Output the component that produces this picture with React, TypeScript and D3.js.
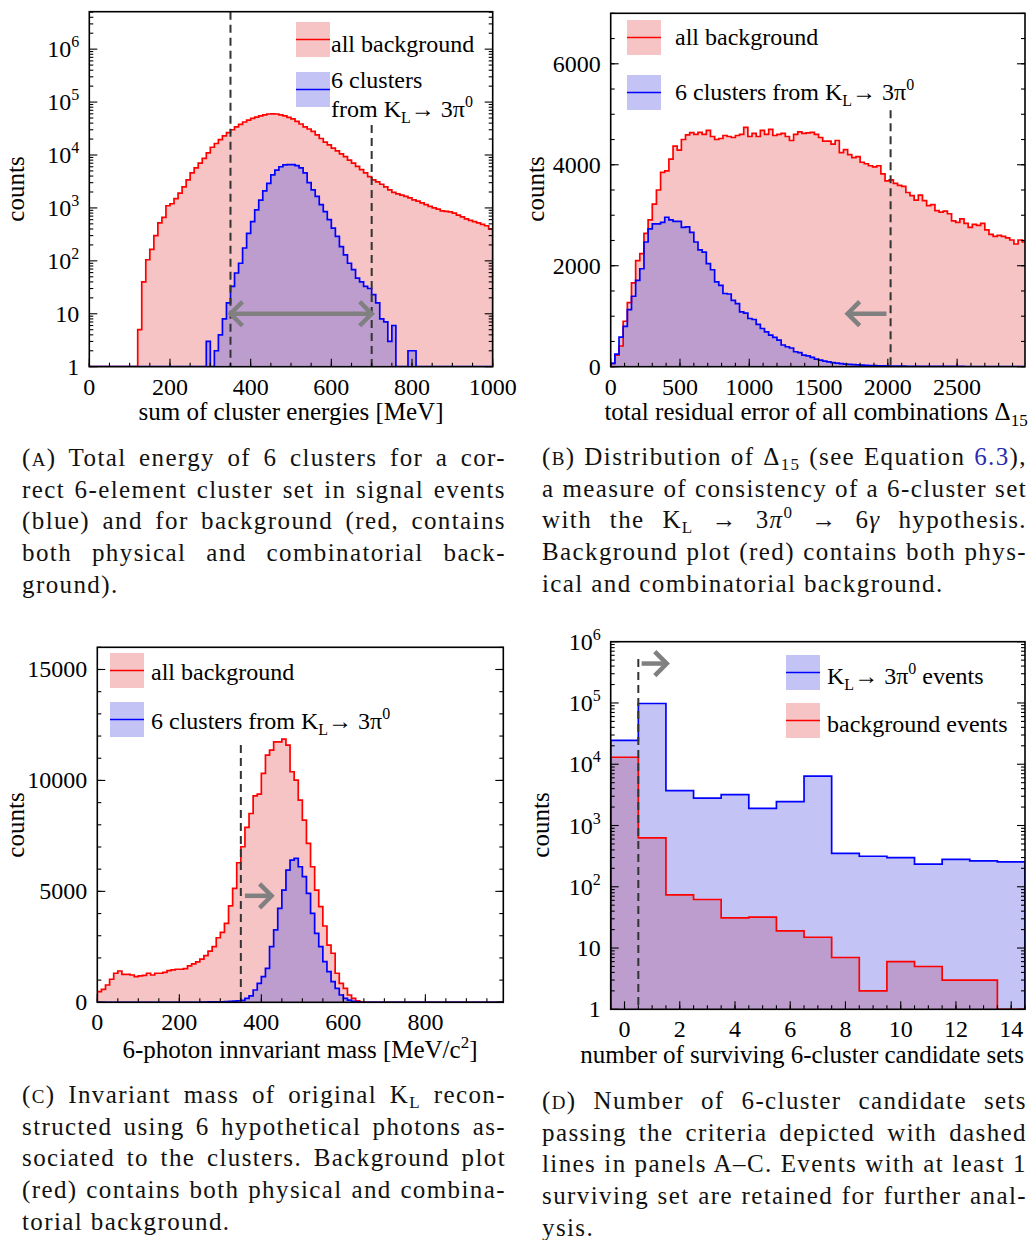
import * as d3 from "d3";
import type React from "react";
import { useLayoutEffect, useRef } from "react";

const FONT = "'Liberation Serif', 'Times New Roman', Times, serif";
const RED = "#ff0000";
const BLUE = "#0000ff";
const RED_FILL = "#f6c4c4";
const BLUE_FILL = "rgba(80, 80, 225, 0.34)";
const GREY = "#808080";
const DASH = "#333333";
const PLOT_FS = 24;
const TITLE_FS = 25;
const CAP_FS = 25;

// (A) sum of cluster energies, 10 MeV bins from 0 to 1000
const energyBinStart = 0;
const energyBinWidth = 10;
const energyBackground = [
	0, 0, 0, 0, 0, 0, 0, 0, 0, 0, 0, 0, 5, 40, 105, 165, 300, 520, 660, 1100,
	1200, 1500, 1900, 2500, 3400, 4600, 5700, 7000, 8600, 11000,
	14000, 16500, 19500, 23000, 26500, 30000, 34000, 38000, 42000, 45500,
	49000, 52000, 55000, 57500, 59500, 60000, 59500, 57500, 55000, 51500,
	48000, 43000, 38500, 34000, 31000, 28000, 24000, 20500, 17500, 15500,
	13500, 12000, 10500, 9300, 8000, 7000, 6100, 5300, 4600, 3900,
	3400, 3100, 2800, 2500, 2200, 1960, 1850, 1750, 1650, 1550,
	1420, 1350, 1250, 1150, 1070, 1000, 950, 880, 860, 840,
	800, 730, 680, 620, 580, 550, 520, 490, 460, 400,
];
const energySignal = [
	0, 0, 0, 0, 0, 0, 0, 0, 0, 0, 0, 0, 0, 0, 0, 0, 0, 0, 0, 0,
	0, 0, 0, 0, 0, 0, 0, 0, 0, 3,
	0, 2, 4, 8, 16, 33, 59, 90, 175, 330,
	550, 920, 1400, 2100, 2900, 4200, 5200, 6000, 6500, 6600,
	6600, 6300, 5700, 4600, 3000, 2200, 1650, 1150, 850, 600,
	415, 290, 185, 130, 90, 68, 47, 40, 33, 30,
	23, 16, 8, 7, 3, 6, 0, 0, 0, 2,
	2, 0, 0, 0, 0, 0, 0, 0, 0, 0, 0, 0, 0, 0, 0, 0, 0, 0, 0, 0,
];
const energyXTicks = [0, 200, 400, 600, 800, 1000];
const energyCuts = [350, 700];

// (B) total residual error Delta_15, bins of 30 from 0 to 3000
const deltaBinStart = 0;
const deltaBinWidth = 30;
const deltaBackground = [
	67, 230, 410, 900, 1270, 1660, 2100, 2240, 2640, 2910,
	3220, 3500, 3850, 3880, 4110, 4370, 4290, 4500, 4590, 4635,
	4600, 4640, 4600, 4680, 4560, 4500, 4520, 4580, 4560, 4540,
	4580, 4600, 4740, 4560, 4620, 4560, 4680, 4600, 4700, 4580,
	4600, 4620, 4560, 4480, 4600, 4650, 4620, 4630, 4640, 4600,
	4540, 4470, 4470, 4410, 4480, 4240, 4300, 4200, 4140, 4160,
	4050, 4020, 3980, 3960, 3980, 3820, 3680, 3700, 3630, 3590,
	3570, 3450, 3390, 3300, 3400, 3290, 3190, 3210, 3090, 3060,
	3080, 3030, 2890, 2860, 2930, 2840, 2760, 2820, 2800, 2840,
	2710, 2620, 2580, 2600, 2580, 2550, 2510, 2430, 2510, 2470,
];
const deltaSignal = [
	67, 250, 585, 800, 1130, 1395, 1710, 1940, 2470, 2730,
	2830, 2830, 2860, 2960, 2910, 2880, 2880, 2760, 2770, 2660,
	2470, 2315, 2270, 2040, 1920, 1680, 1610, 1450, 1440, 1315,
	1250, 1085, 1060, 955, 935, 840, 757, 690, 625, 580,
	527, 430, 395, 370, 296, 280, 230, 215, 185, 150,
	130, 110, 95, 80, 70, 60, 50, 45, 40, 35,
	30, 27, 24, 21, 19, 17, 15, 14, 12, 11,
	10, 9, 9, 8, 8, 7, 7, 7, 6, 6,
	6, 5, 5, 5, 5, 4, 4, 4, 4, 4,
	3, 3, 3, 3, 3, 3, 3, 2, 2, 2,
];
const deltaXTicks = [0, 500, 1000, 1500, 2000, 2500];
const deltaYTicks = [0, 2000, 4000, 6000];
const deltaCut = 2020;

// (C) 6-photon invariant mass, bins of 10 MeV/c^2 from 0
const massBinStart = 0;
const massBinWidth = 10;
const massBackground = [
	480, 585, 780, 1040, 1310, 1410, 1260, 1260, 1230, 1160,
	1190, 1215, 1310, 1230, 1310, 1310, 1350, 1430, 1460, 1490,
	1490, 1520, 1640, 1730, 1820, 1950, 2100, 2310, 2510, 2910,
	3150, 3560, 4350, 5135, 6290, 7010, 7880, 8510, 9300, 9380,
	10315, 11140, 11370, 11740, 11740, 11860, 11590, 10390, 10015, 9110,
	8210, 7160, 6110, 5060, 4310, 3440, 2580, 2210, 1310, 855,
	630, 330, 180, 60, 15, 0, 0, 0, 0, 0,
	0, 0, 0, 0, 0, 0, 0, 0, 0, 0, 0, 0, 0, 0, 0, 0, 0, 0, 0, 0,
	0, 0, 0, 0, 0, 0, 0, 0, 0,
];
const massSignal = [
	0, 0, 0, 0, 0, 0, 0, 0, 0, 0, 0, 0, 0, 0, 0, 0, 0, 0, 0, 0,
	0, 0, 0, 0, 0, 5, 10, 15, 20, 25,
	20, 30, 40, 55, 70, 90, 180, 290, 555, 855,
	1160, 1530, 2510, 3260, 4230, 5060, 5960, 6410, 6490, 6110,
	5660, 4910, 4010, 3110, 2510, 1830, 1380, 930, 630, 330,
	180, 100, 40, 15, 0, 0, 0, 0, 0, 0,
	0, 0, 0, 0, 0, 0, 0, 0, 0, 0, 0, 0, 0, 0, 0, 0, 0, 0, 0, 0,
	0, 0, 0, 0, 0, 0, 0, 0, 0,
];
const massXTicks = [0, 200, 400, 600, 800];
const massYTicks = [0, 5000, 10000, 15000];
const massCut = 350;

// (D) number of surviving candidate sets, integer bins 0..14
const setsBinStart = -0.5;
const setsBinWidth = 1;
const setsSignal = [24500, 98000, 3700, 2800, 3200, 1900, 2450, 6400, 350, 315, 300, 235, 280, 265, 255];
const setsBackground = [13000, 630, 74, 62, 31, 32, 19, 15, 7, 2, 6, 5, 3, 3, 0];
const setsXTicks = [0, 2, 4, 6, 8, 10, 12, 14];
const setsCut = 0.5;

const logTicks = [1, 10, 100, 1000, 10000, 100000, 1000000];

type Hist = { values: number[]; start: number; width: number; color: string; fill: string };
type Scale = (v: number) => number;

function histPath(h: Hist, x: Scale, y: Scale, floor: number, close: boolean) {
	const yy = (v: number) => y(v < floor ? floor : v);
	let d = `M${x(h.start)},${y(floor)}`;
	h.values.forEach((v, i) => {
		d += `L${x(h.start + i * h.width)},${yy(v)}L${x(h.start + (i + 1) * h.width)},${yy(v)}`;
	});
	d += `L${x(h.start + h.values.length * h.width)},${y(floor)}`;
	return close ? d + "Z" : d;
}

function logLabel(v: number) {
	if (v === 1) return "1";
	if (v === 10) return "10";
	return (
		<>
			10
			<tspan dy={-10} fontSize={16}>
				{Math.round(Math.log10(v))}
			</tspan>
		</>
	);
}

interface PanelProps {
	id: string;
	left: number;
	right: number;
	top: number;
	bottom: number;
	xDomain: [number, number];
	yDomain: [number, number];
	log?: boolean;
	fills: Hist[]; // fill order (background first so the signal tints it)
	lines: Hist[]; // outline order
	xTicks: number[];
	xMinorStep: number;
	yTicks: number[];
	yMinorStep?: number;
	extras?: (x: Scale, y: Scale) => React.ReactNode;
}

function Panel(p: PanelProps) {
	const x = d3.scaleLinear().domain(p.xDomain).range([p.left, p.right]);
	const y = p.log
		? d3.scaleLog().domain(p.yDomain).range([p.bottom, p.top])
		: d3.scaleLinear().domain(p.yDomain).range([p.bottom, p.top]);
	const floor = p.log ? p.yDomain[0] : 0;
	const [x0, x1] = p.xDomain;
	const xMinor = d3.range(Math.ceil(x0 / p.xMinorStep) * p.xMinorStep, x1 + 1e-9, p.xMinorStep);
	const yMinor = p.log
		? d3.range(0, 7).flatMap((e) => d3.range(2, 10).map((k) => k * 10 ** e)).filter((v) => v < p.yDomain[1])
		: d3.range(0, p.yDomain[1] + 1e-9, p.yMinorStep ?? 1);
	const MAJ = 8;
	const MIN = 4;
	return (
		<g>
			<defs>
				<clipPath id={`clip-${p.id}`}>
					<rect x={p.left} y={p.top} width={p.right - p.left} height={p.bottom - p.top} />
				</clipPath>
			</defs>
			<g clipPath={`url(#clip-${p.id})`}>
				{p.fills.map((h, i) => (
					<path key={`f${i}`} d={histPath(h, x, y, floor, true)} fill={h.fill} stroke="none" />
				))}
				{p.lines.map((h, i) => (
					<path key={`l${i}`} d={histPath(h, x, y, floor, false)} fill="none" stroke={h.color} strokeWidth={1.7} />
				))}
			</g>
			{p.extras?.(x, y)}
			<g stroke="#000" strokeWidth={1.1}>
				{xMinor.map((v) => (
					<line key={`xm${v}`} x1={x(v)} x2={x(v)} y1={p.bottom} y2={p.bottom - MIN} />
				))}
				{p.xTicks.map((v) => (
					<line key={`xM${v}`} x1={x(v)} x2={x(v)} y1={p.bottom} y2={p.bottom - MAJ} />
				))}
				{yMinor.map((v) => (
					<g key={`ym${v}`}>
						<line x1={p.left} x2={p.left + MIN} y1={y(v)} y2={y(v)} />
						<line x1={p.right} x2={p.right - MIN} y1={y(v)} y2={y(v)} />
					</g>
				))}
				{p.yTicks.map((v) => (
					<g key={`yM${v}`}>
						<line x1={p.left} x2={p.left + MAJ} y1={y(v)} y2={y(v)} />
						<line x1={p.right} x2={p.right - MAJ} y1={y(v)} y2={y(v)} />
					</g>
				))}
			</g>
			<rect
				x={p.left}
				y={p.top}
				width={p.right - p.left}
				height={p.bottom - p.top}
				fill="none"
				stroke="#000"
				strokeWidth={1.6}
			/>
			<g fontSize={PLOT_FS} fill="#000">
				{p.xTicks.map((v) => (
					<text key={`xl${v}`} x={x(v)} y={p.bottom + 28} textAnchor="middle">
						{v}
					</text>
				))}
				{p.yTicks.map((v) => (
					<text key={`yl${v}`} x={p.left - 10} y={y(v) + 8} textAnchor="end">
						{p.log ? logLabel(v) : v}
					</text>
				))}
			</g>
		</g>
	);
}

function Arrow({ xa, xb, y, both }: { xa: number; xb: number; y: number; both?: boolean }) {
	const dir = xb > xa ? 1 : -1;
	const head = (tx: number, d: number) => `M${tx - d * 12},${y - 12}L${tx},${y}L${tx - d * 12},${y + 12}`;
	return (
		<g stroke={GREY} strokeWidth={4.5} fill="none">
			<line x1={xa} x2={xb} y1={y} y2={y} />
			<path d={head(xb, dir)} />
			{both && <path d={head(xa, -dir)} />}
		</g>
	);
}

function LegendEntry({ x, y, fill, color }: { x: number; y: number; fill: string; color: string }) {
	return (
		<g>
			<rect x={x} y={y} width={34} height={35} fill={fill} />
			<line x1={x} x2={x + 34} y1={y + 17.5} y2={y + 17.5} stroke={color} strokeWidth={1.7} />
		</g>
	);
}

function KL() {
	return (
		<>
			K
			<tspan dy={6} fontSize={16}>
				L
			</tspan>
			<tspan dy={-6}>{"\u2192 3\u03c0"}</tspan>
			<tspan dy={-10} fontSize={16}>
				0
			</tspan>
			<tspan dy={10}> </tspan>
		</>
	);
}

// one caption line, justified to the column width by stretching the word spaces
function CaptionLine({ x, y, width, justify, children }: { x: number; y: number; width: number; justify: boolean; children: React.ReactNode }) {
	const ref = useRef<SVGTextElement | null>(null);
	useLayoutEffect(() => {
		const el = ref.current;
		if (!el || !justify) return;
		el.style.wordSpacing = "0px";
		const natural = el.getComputedTextLength();
		const spaces = (el.textContent || "").split(" ").length - 1;
		if (spaces > 0) el.style.wordSpacing = `${(width - natural) / spaces}px`;
	}, [width, justify]);
	return (
		<text ref={ref} x={x} y={y}>
			{children}
		</text>
	);
}

function Caption({ x, y0, width, lines }: { x: number; y0: number; width: number; lines: React.ReactNode[] }) {
	return (
		<g fontSize={CAP_FS} fill="#111" style={{ letterSpacing: "1.4px" }}>
			{lines.map((l, i) => (
				<CaptionLine key={i} x={x} y={y0 + i * 31.67} width={width} justify={i < lines.length - 1}>
					{l}
				</CaptionLine>
			))}
		</g>
	);
}

const sc = (c: string) => (
	<>
		(<tspan fontSize={19}>{c}</tspan>)
	</>
);

export default function App() {
	const redA: Hist = { values: energyBackground, start: energyBinStart, width: energyBinWidth, color: RED, fill: RED_FILL };
	const blueA: Hist = { values: energySignal, start: energyBinStart, width: energyBinWidth, color: BLUE, fill: BLUE_FILL };
	const redB: Hist = { values: deltaBackground, start: deltaBinStart, width: deltaBinWidth, color: RED, fill: RED_FILL };
	const blueB: Hist = { values: deltaSignal, start: deltaBinStart, width: deltaBinWidth, color: BLUE, fill: BLUE_FILL };
	const redC: Hist = { values: massBackground, start: massBinStart, width: massBinWidth, color: RED, fill: RED_FILL };
	const blueC: Hist = { values: massSignal, start: massBinStart, width: massBinWidth, color: BLUE, fill: BLUE_FILL };
	const blueD: Hist = { values: setsSignal, start: setsBinStart, width: setsBinWidth, color: BLUE, fill: BLUE_FILL };
	const redD: Hist = { values: setsBackground, start: setsBinStart, width: setsBinWidth, color: RED, fill: RED_FILL };

	return (
		<svg
			width={1030}
			height={1240}
			style={{ position: "absolute", left: 0, top: 0, background: "#fff" }}
			fontFamily={FONT}
		>
			{/* (A) */}
			<Panel
				id="a"
				left={89.3}
				right={492.7}
				top={11.7}
				bottom={366.7}
				xDomain={[0, 1000]}
				yDomain={[1, 5.1e6]}
				log
				fills={[redA, blueA]}
				lines={[redA, blueA]}
				xTicks={energyXTicks}
				xMinorStep={50}
				yTicks={logTicks}
				extras={(x, y) => (
					<g>
						<line x1={x(energyCuts[0])} x2={x(energyCuts[0])} y1={11.7} y2={366.7} stroke={DASH} strokeWidth={2} strokeDasharray="8,5" />
						<line x1={x(energyCuts[1])} x2={x(energyCuts[1])} y1={y(3.7e4)} y2={366.7} stroke={DASH} strokeWidth={2} strokeDasharray="8,5" />
						<Arrow xa={x(energyCuts[0])} xb={x(energyCuts[1])} y={y(10)} both />
					</g>
				)}
			/>
			<LegendEntry x={296} y={22} fill={RED_FILL} color={RED} />
			<LegendEntry x={296} y={72} fill={BLUE_FILL} color={BLUE} />
			<g fontSize={PLOT_FS}>
				<text x={331} y={52}>all background</text>
				<text x={331} y={88}>6 clusters</text>
				<text x={331} y={117}>
					from <KL />
				</text>
			</g>
			<g fontSize={TITLE_FS}>
				<text x={291} y={420} textAnchor="middle">sum of cluster energies [MeV]</text>
				<text transform="translate(24,189) rotate(-90)" textAnchor="middle">counts</text>
			</g>

			{/* (B) */}
			<Panel
				id="b"
				left={610.7}
				right={1025}
				top={13.3}
				bottom={366.7}
				xDomain={[0, 2990]}
				yDomain={[0, 7000]}
				fills={[redB, blueB]}
				lines={[redB, blueB]}
				xTicks={deltaXTicks}
				xMinorStep={100}
				yTicks={deltaYTicks}
				yMinorStep={500}
				extras={(x, y) => (
					<g>
						<line x1={x(deltaCut)} x2={x(deltaCut)} y1={y(5080)} y2={366.7} stroke={DASH} strokeWidth={2} strokeDasharray="8,5" />
						<Arrow xa={x(1990)} xb={x(1710)} y={y(1050)} />
					</g>
				)}
			/>
			<LegendEntry x={627} y={20} fill={RED_FILL} color={RED} />
			<LegendEntry x={627} y={75} fill={BLUE_FILL} color={BLUE} />
			<g fontSize={PLOT_FS}>
				<text x={675} y={45}>all background</text>
				<text x={675} y={100}>
					6 clusters from <KL />
				</text>
			</g>
			<g fontSize={TITLE_FS}>
				<text x={816} y={420} textAnchor="middle">
					total residual error of all combinations {"\u0394"}
					<tspan dy={6} fontSize={17}>
						15
					</tspan>
				</text>
				<text transform="translate(544,189) rotate(-90)" textAnchor="middle">counts</text>
			</g>

			{/* (C) */}
			<Panel
				id="c"
				left={97.3}
				right={503.3}
				top={647.3}
				bottom={1002.3}
				xDomain={[0, 990]}
				yDomain={[0, 16000]}
				fills={[redC, blueC]}
				lines={[redC, blueC]}
				xTicks={massXTicks}
				xMinorStep={50}
				yTicks={massYTicks}
				yMinorStep={1000}
				extras={(x, y) => (
					<g>
						<line x1={x(massCut)} x2={x(massCut)} y1={y(11600)} y2={1002.3} stroke={DASH} strokeWidth={2} strokeDasharray="8,5" />
						<Arrow xa={x(360)} xb={x(425)} y={y(4800)} />
					</g>
				)}
			/>
			<LegendEntry x={110} y={653} fill={RED_FILL} color={RED} />
			<LegendEntry x={110} y={702} fill={BLUE_FILL} color={BLUE} />
			<g fontSize={PLOT_FS}>
				<text x={151} y={680}>all background</text>
				<text x={151} y={729}>
					6 clusters from <KL />
				</text>
			</g>
			<g fontSize={TITLE_FS}>
				<text x={300} y={1058} textAnchor="middle">
					6-photon innvariant mass [MeV/c
					<tspan dy={-10} fontSize={17}>
						2
					</tspan>
					<tspan dy={10}>]</tspan>
				</text>
				<text transform="translate(24,825) rotate(-90)" textAnchor="middle">counts</text>
			</g>

			{/* (D) */}
			<Panel
				id="d"
				left={610.7}
				right={1025}
				top={641.7}
				bottom={1009.3}
				xDomain={[-0.5, 14.5]}
				yDomain={[1, 1e6]}
				log
				fills={[redD, blueD]}
				lines={[blueD, redD]}
				xTicks={setsXTicks}
				xMinorStep={0.5}
				yTicks={logTicks}
				extras={(x, y) => (
					<g>
						<line x1={x(setsCut)} x2={x(setsCut)} y1={y(5.2e5)} y2={1009.3} stroke={DASH} strokeWidth={2} strokeDasharray="8,5" />
						<Arrow xa={x(0.62)} xb={x(1.53)} y={y(4.4e5)} />
					</g>
				)}
			/>
			<LegendEntry x={786} y={655} fill={BLUE_FILL} color={BLUE} />
			<LegendEntry x={786} y={703} fill={RED_FILL} color={RED} />
			<g fontSize={PLOT_FS}>
				<text x={827} y={684}>
					<KL />
					events
				</text>
				<text x={827} y={732}>background events</text>
			</g>
			<g fontSize={TITLE_FS}>
				<text x={1024} y={1063} textAnchor="end">number of surviving 6-cluster candidate sets</text>
				<text transform="translate(549,825) rotate(-90)" textAnchor="middle">counts</text>
			</g>

			{/* captions */}
			<Caption
				x={22}
				y0={466}
				width={484}
				lines={[
					<>{sc("A")} Total energy of 6 clusters for a cor-</>,
					"rect 6-element cluster set in signal events",
					"(blue) and for background (red, contains",
					"both physical and combinatorial back-",
					"ground).",
				]}
			/>
			<Caption
				x={542}
				y0={465}
				width={485}
				lines={[
					<>
						{sc("B")} Distribution of {"\u0394"}
						<tspan dy={5} fontSize={17}>15</tspan>
						<tspan dy={-5}> (see Equation </tspan>
						<tspan fill="#2b2bb0">6.3</tspan>),
					</>,
					"a measure of consistency of a 6-cluster set",
					<>
						with the K<tspan dy={5} fontSize={17}>L</tspan>
						<tspan dy={-5}>{" \u2192 3"}</tspan>
						<tspan fontStyle="italic">{"\u03c0"}</tspan>
						<tspan dy={-10} fontSize={17}>0</tspan>
						<tspan dy={10}>{" \u2192 6"}</tspan>
						<tspan fontStyle="italic">{"\u03b3"}</tspan> hypothesis.
					</>,
					"Background plot (red) contains both phys-",
					"ical and combinatorial background.",
				]}
			/>
			<Caption
				x={22}
				y0={1103}
				width={484}
				lines={[
					<>
						{sc("C")} Invariant mass of original K<tspan dy={5} fontSize={17}>L</tspan>
						<tspan dy={-5}> recon-</tspan>
					</>,
					"structed using 6 hypothetical photons as-",
					"sociated to the clusters. Background plot",
					"(red) contains both physical and combina-",
					"torial background.",
				]}
			/>
			<Caption
				x={542}
				y0={1109}
				width={485}
				lines={[
					<>{sc("D")} Number of 6-cluster candidate sets</>,
					"passing the criteria depicted with dashed",
					"lines in panels A\u2013C. Events with at least 1",
					"surviving set are retained for further anal-",
					"ysis.",
				]}
			/>
		</svg>
	);
}
